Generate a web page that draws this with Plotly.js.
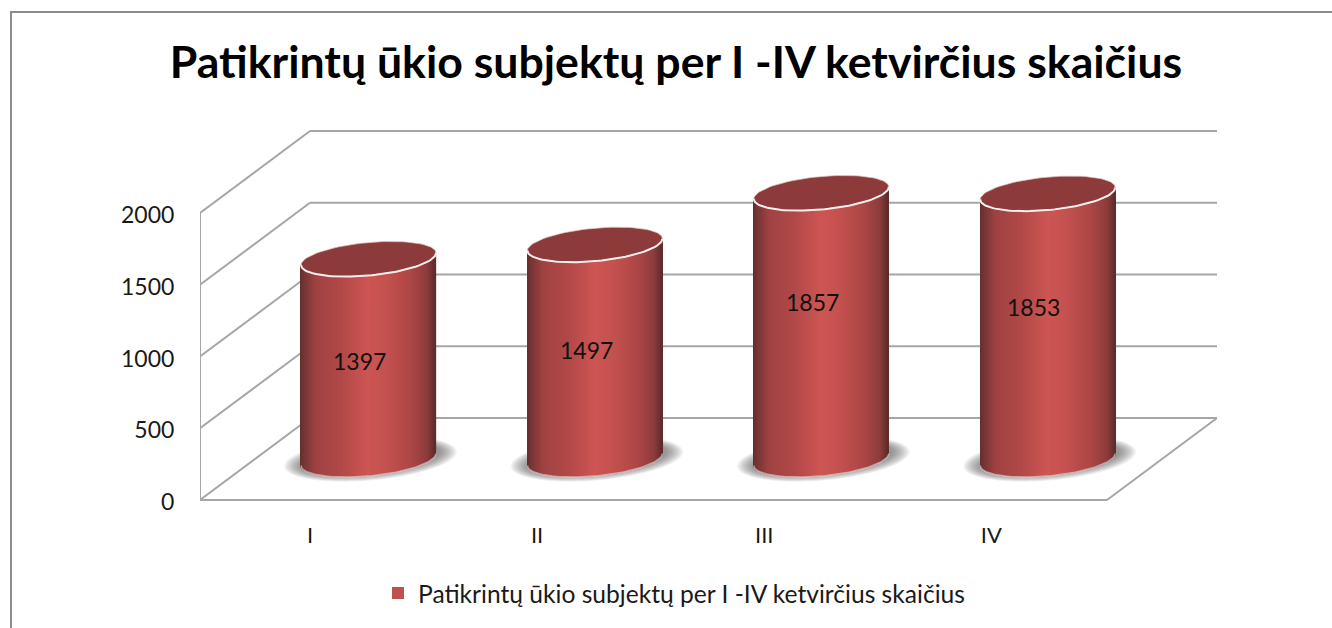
<!DOCTYPE html>
<html>
<head>
<meta charset="utf-8">
<script src="https://cdn.plot.ly/plotly-3.0.1.min.js"></script>
<style>html,body{margin:0;padding:0;background:#fff;overflow:hidden}</style>
</head>
<body>
<div id="chart" style="width:1332px;height:628px"></div>
<script>
// ---- data ----
const chartTitle = 'Patikrintų ūkio subjektų per I -IV ketvirčius skaičius';
const quarters = ['I', 'II', 'III', 'IV'];
const counts = [1397, 1497, 1857, 1853];
const yTicks = [0, 500, 1000, 1500, 2000];

// ---- pixel geometry of the fake 3-D box ----
const PLOT = {l: 200, r: 1217, t: 125, b: 505};
const X0PX = 310, XSTEP = 227.1;       // category 0 position, px per category
const Y0PX = 500, YSCALE = 0.1435;     // value 0 position, px per unit
const dx = px => px / XSTEP, dy = px => px / YSCALE;
const DEPTH_X = dx(110), DEPTH_Y = dy(82);
const CYL_X = dx(58.5), CYL_Y = dy(40.5);      // cylinders stand mid-depth
const CYL_STEP = dx(226.4);
const A = dx(67.5), B = dy(16.5), TILT = dy(6); // ellipse half-axes and tilt
const LINE = '#a6a6a6';

const centers = counts.map((_, i) => i * CYL_STEP + CYL_X);
const ell = (cx, cy, a, b, tilt, t) => [cx + a * Math.cos(t), cy + tilt * Math.cos(t) + b * Math.sin(t)];
function ellipsePts(cx, cy, a, b, tilt, from, to, n) {
  const xs = [], ys = [];
  for (let k = 0; k <= n; k++) {
    const p = ell(cx, cy, a, b, tilt, from + (to - from) * k / n);
    xs.push(p[0]); ys.push(p[1]);
  }
  return [xs, ys];
}
const toPath = (xs, ys) => 'M' + xs.map((x, i) => x + ',' + ys[i]).join('L') + 'Z';

// ---- box lines and floor shadows (under the bars) ----
const shapes = [];
const seg = (x0, y0, x1, y1) => shapes.push({type: 'line', layer: 'below', xref: 'x', yref: 'y', x0, y0, x1, y1,
  line: {color: LINE, width: 2}});
const xFront = -dx(X0PX - PLOT.l);
const xBack = 0;
const xEnd = dx(1217 - X0PX);
yTicks.forEach(v => {
  seg(xFront, v, xBack, v + DEPTH_Y);
  seg(xBack, v + DEPTH_Y, xEnd, v + DEPTH_Y);
});
seg(xFront, 0, xFront, 2000);
seg(xFront, 0, xEnd - DEPTH_X, 0);
seg(xEnd - DEPTH_X, 0, xEnd, DEPTH_Y);

const SHADOW_STEPS = 14;
centers.forEach(c => {
  for (let s = 0; s < SHADOW_STEPS; s++) {
    const g = 1 - s / SHADOW_STEPS;
    const e = ellipsePts(c + dx(2), dy(41), A + dx(1 + 18 * g), B + dy(-2 + 7 * g), TILT * 1.2, 0, 2 * Math.PI, 60);
    shapes.push({type: 'path', layer: 'below', xref: 'x', yref: 'y', path: toPath(e[0], e[1]),
      fillcolor: 'rgba(80,80,80,0.055)', line: {width: 0}});
  }
});
// chart frame: left and top edges only
const px2 = x => (x - PLOT.l) / (PLOT.r - PLOT.l);
const py2 = y => (PLOT.b - y) / (PLOT.b - PLOT.t);
shapes.push({type: 'path', xref: 'paper', yref: 'paper',
  path: `M${px2(11)},${py2(628)}L${px2(11)},${py2(12)}L${px2(1332)},${py2(12)}`,
  line: {color: '#8c8c8c', width: 2}});

// ---- gradient body of each cylinder: one thin bar per pixel column ----
const stops = [[0, [98, 46, 46]], [0.03, [118, 52, 52]], [0.12, [160, 66, 66]], [0.3, [176, 72, 71]], [0.5, [205, 85, 83]],
  [0.62, [198, 82, 80]], [0.82, [172, 70, 69]], [0.94, [140, 60, 59]], [1, [92, 42, 42]]];
function shade(f) {
  for (let i = 1; i < stops.length; i++) {
    if (f <= stops[i][0]) {
      const a = stops[i - 1], b = stops[i], w = (f - a[0]) / (b[0] - a[0]);
      return 'rgb(' + a[1].map((v, k) => Math.round(v + (b[1][k] - v) * w)).join(',') + ')';
    }
  }
  return 'rgb(92,42,42)';
}
const N = 135;
const stripX = [], stripBase = [], stripH = [], stripC = [];
counts.forEach((v, i) => {
  for (let k = 0; k < N; k++) {
    const f = (k + 0.5) / N, u = 2 * f - 1;
    const bottom = CYL_Y + TILT * u - B * Math.sqrt(1 - u * u);
    const top = v + CYL_Y + TILT * u;
    stripX.push(centers[i] + u * A);
    stripBase.push(bottom);
    stripH.push(top - bottom);
    stripC.push(shade(f));
  }
});

const traces = [
  {type: 'bar', name: chartTitle, x: centers, y: counts, base: counts.map(() => CYL_Y), width: 0.5,
   marker: {color: '#c0504d', line: {width: 0}}, hoverinfo: 'y', showlegend: true},
  {type: 'bar', x: stripX, y: stripH, base: stripBase, width: 2 * A / N * 1.3,
   marker: {color: stripC, line: {width: 0}}, hoverinfo: 'skip', showlegend: false}
];
// tops and rims
counts.forEach((v, i) => {
  const top = ellipsePts(centers[i], v + CYL_Y, A, B, TILT, 0, 2 * Math.PI, 90);
  traces.push({type: 'scatter', mode: 'lines', x: top[0], y: top[1], fill: 'toself', fillcolor: '#8c3a3a',
    line: {color: 'rgba(220,200,200,0.7)', width: 1}, hoverinfo: 'skip', showlegend: false});
  const rim = ellipsePts(centers[i], v + CYL_Y, A, B, TILT, Math.PI, 2 * Math.PI, 60);
  traces.push({type: 'scatter', mode: 'lines', x: rim[0], y: rim[1],
    line: {color: '#f4eeee', width: 2}, hoverinfo: 'skip', showlegend: false});
  const foot = ellipsePts(centers[i], CYL_Y, A, B, TILT, Math.PI, 2 * Math.PI, 60);
  traces.push({type: 'scatter', mode: 'lines', x: foot[0], y: foot[1],
    line: {color: 'rgba(235,225,225,0.6)', width: 1.5}, hoverinfo: 'skip', showlegend: false});
});

// value labels
const labelNudgeX = [-9, -8, -9, -14];
const labelNudgeY = [-2, 2, 24, 20];
const annotations = counts.map((v, i) => ({
  xref: 'x', yref: 'y', x: centers[i] + dx(labelNudgeX[i]), y: CYL_Y + v / 2 + dy(labelNudgeY[i]),
  text: String(v), showarrow: false, xanchor: 'center', yanchor: 'middle',
  font: {family: 'Lato', size: 23, color: '#111'}
}));

const layout = {
  width: 1332, height: 628, autosize: false,
  margin: {l: PLOT.l, r: 1332 - PLOT.r, t: PLOT.t, b: 628 - PLOT.b, pad: 0},
  paper_bgcolor: '#fff', plot_bgcolor: 'rgba(0,0,0,0)',
  font: {family: 'Lato', color: '#1a1a1a'},
  barmode: 'overlay',
  title: {text: chartTitle, x: 676 / 1332, xanchor: 'center', y: 1 - 62 / 628, yanchor: 'middle',
    font: {family: 'Lato', size: 44.6, weight: 700, color: '#000'}},
  xaxis: {type: 'linear', range: [xFront, xEnd], tickmode: 'array', tickvals: quarters.map((_, i) => i), ticktext: quarters,
    showgrid: false, zeroline: false, showline: false, ticks: 'outside', ticklen: 11, tickcolor: 'rgba(0,0,0,0)',
    tickfont: {family: 'Lato', size: 22, color: '#1a1a1a'}, fixedrange: true},
  yaxis: {range: [(Y0PX - PLOT.b) / YSCALE, (Y0PX - PLOT.t) / YSCALE], tickmode: 'array', tickvals: yTicks,
    showgrid: false, zeroline: false, showline: false, ticks: 'outside', ticklen: 20, tickcolor: 'rgba(0,0,0,0)',
    ticklabelshift: 2,
    tickfont: {family: 'Lato', size: 23, color: '#1a1a1a'}, fixedrange: true},
  legend: {x: px2(378), y: py2(593), xanchor: 'left', yanchor: 'middle', bgcolor: 'rgba(0,0,0,0)',
    font: {family: 'Lato', size: 24.6, color: '#1a1a1a'}},
  shapes, annotations, hovermode: 'closest'
};
Plotly.newPlot('chart', traces, layout, {displayModeBar: false});
</script>
</body>
</html>
